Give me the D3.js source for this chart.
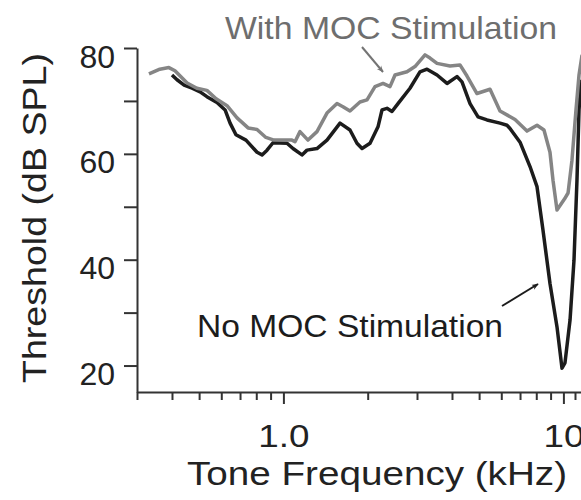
<!DOCTYPE html>
<html>
<head>
<meta charset="utf-8">
<script src="https://cdn.jsdelivr.net/npm/d3@7"></script>
<style>
  body { margin: 0; background: #fff; }
  text { font-family: "Liberation Sans", Arial, sans-serif; }
</style>
</head>
<body>
<script>
// tone frequency (kHz) and threshold (dB SPL)
const freqWithMoc = [0.331, 0.362, 0.390, 0.410, 0.453, 0.491, 0.533, 0.575, 0.629, 0.683,
  0.748, 0.805, 0.866, 0.925, 1.073, 1.100, 1.146, 1.224, 1.318, 1.431,
  1.554, 1.632, 1.729, 1.877, 1.989, 2.124, 2.269, 2.403, 2.504, 2.763,
  2.951, 3.205, 3.339, 3.537, 3.936, 4.272, 4.526, 4.913, 5.469, 5.937,
  6.717, 7.413, 8.049, 8.523, 8.955, 9.18, 9.487, 10.10, 10.39, 10.73,
  11.09, 11.37, 11.66];
const thrWithMoc = [75.1, 76.0, 76.3, 75.7, 73.4, 72.4, 72.0, 70.4, 69.1, 66.8,
  64.9, 64.6, 63.1, 62.6, 62.6, 62.3, 64.2, 62.6, 64.2, 67.7,
  69.5, 68.9, 68.1, 69.8, 70.2, 72.7, 73.3, 72.7, 74.9, 75.5,
  76.5, 78.7, 78.1, 77.1, 76.6, 76.8, 74.7, 71.4, 72.2, 68.1,
  66.5, 64.3, 65.4, 64.5, 60.3, 55.0, 49.4, 51.5, 52.6, 58.8,
  68.3, 74.9, 78.7];

const freqNoMoc = [0.400, 0.417, 0.442, 0.472, 0.504, 0.533, 0.579, 0.619, 0.645, 0.677,
  0.735, 0.805, 0.839, 0.874, 0.918, 1.030, 1.082, 1.165, 1.214, 1.318,
  1.431, 1.593, 1.729, 1.831, 1.909, 2.039, 2.177, 2.250, 2.344, 2.442,
  2.566, 2.832, 3.074, 3.258, 3.537, 3.840, 4.167, 4.343, 4.640, 4.956,
  5.335, 5.937, 6.290, 6.445, 7.000, 7.598, 8.049, 8.453, 8.955, 9.487,
  9.885, 10.13, 10.56, 10.91, 11.18, 11.37, 11.56];
const thrNoMoc = [74.9, 74.0, 73.0, 72.4, 71.7, 70.8, 69.7, 68.3, 65.8, 63.6,
  62.6, 60.3, 59.8, 60.7, 62.1, 62.0, 61.0, 59.8, 60.7, 61.0,
  62.6, 65.8, 64.5, 62.0, 61.0, 62.0, 65.1, 68.3, 68.6, 68.0,
  69.5, 72.4, 75.5, 76.0, 74.9, 73.3, 74.6, 73.6, 69.5, 67.0,
  66.4, 65.8, 65.4, 64.8, 62.2, 57.6, 53.8, 45.6, 35.5, 27.3,
  19.5, 20.5, 28.6, 39.9, 55.0, 68.3, 74.0];

// axis ticks
const yMajorTicks = [20, 40, 60, 80];
const yMinorTicks = [30, 50, 70];
const xMajorTicks = [1, 10];
const xMinorTicks = [0.3, 0.4, 0.5, 0.6, 0.7, 0.8, 0.9, 2, 3, 4, 5, 6, 7, 8, 9, 11];
const xTickLabels = { 1: "1.0", 10: "10" };

const width = 581, height = 500;
const margin = { top: 48, left: 137 };
const plotW = 449, plotH = 344;

const svg = d3.select("body").append("svg")
  .attr("width", width)
  .attr("height", height);

const defs = svg.append("defs");
[["arrowGray", "#747474"], ["arrowBlack", "#1c1c1c"]].forEach(([id, c]) => {
  defs.append("marker")
    .attr("id", id)
    .attr("viewBox", "0 0 10 10")
    .attr("refX", 9).attr("refY", 5)
    .attr("markerWidth", 7).attr("markerHeight", 7)
    .attr("markerUnits", "userSpaceOnUse")
    .attr("orient", "auto")
    .append("path")
    .attr("d", "M0,1 L10,5 L0,9 L3,5 Z")
    .attr("fill", c);
});

const g = svg.append("g")
  .attr("transform", `translate(${margin.left},${margin.top})`);

const x = d3.scaleLog().domain([0.3, 12]).range([0, plotW * Math.log10(40) / Math.log10(40)]);
x.range([0, 280 * Math.log10(12 / 0.3)]);
const y = d3.scaleLinear().domain([15, 80]).range([plotH, 0]);

// x axis
const xAxis = d3.axisBottom(x)
  .tickValues([...xMinorTicks, ...xMajorTicks])
  .tickFormat(d => xTickLabels[d] || "")
  .tickSize(8)
  .tickSizeOuter(0);
const xg = g.append("g")
  .attr("transform", `translate(0,${plotH})`)
  .call(xAxis);
xg.selectAll(".tick")
  .filter(d => xMajorTicks.includes(d))
  .select("line").attr("y2", 12);
xg.selectAll(".tick text")
  .attr("y", 55).attr("dy", 0)
  .attr("transform", "scale(1.15,1)")
  .attr("font-size", 32)
  .attr("fill", "#222");

// y axis
const yAxis = d3.axisLeft(y)
  .tickValues([...yMinorTicks, ...yMajorTicks])
  .tickFormat(d => yMajorTicks.includes(d) ? d : "")
  .tickSize(13)
  .tickSizeOuter(0);
const yg = g.append("g").call(yAxis);
yg.selectAll(".tick text")
  .attr("x", -22).attr("y", 19).attr("dy", 0)
  .attr("font-size", 32)
  .attr("fill", "#222");

[xg, yg].forEach(a => {
  a.selectAll("path.domain").attr("stroke", "#333").attr("stroke-width", 2);
  a.selectAll(".tick line").attr("stroke", "#333").attr("stroke-width", 2);
});

// curves
const line = d3.line()
  .x(d => x(d[0]))
  .y(d => y(d[1]));

g.append("path")
  .datum(d3.zip(freqNoMoc, thrNoMoc))
  .attr("fill", "none")
  .attr("stroke", "#1c1c1c")
  .attr("stroke-width", 3.5)
  .attr("stroke-linejoin", "round")
  .attr("d", line);

g.append("path")
  .datum(d3.zip(freqWithMoc, thrWithMoc))
  .attr("fill", "none")
  .attr("stroke", "#858585")
  .attr("stroke-width", 3.5)
  .attr("stroke-linejoin", "round")
  .attr("d", line);

// axis titles
svg.append("text")
  .attr("transform", "translate(46,218) rotate(-90)")
  .attr("text-anchor", "middle")
  .attr("font-size", 33)
  .attr("textLength", 330)
  .attr("lengthAdjust", "spacingAndGlyphs")
  .attr("fill", "#222")
  .text("Threshold (dB SPL)");

svg.append("text")
  .attr("x", 377).attr("y", 485)
  .attr("text-anchor", "middle")
  .attr("font-size", 33)
  .attr("textLength", 380)
  .attr("lengthAdjust", "spacingAndGlyphs")
  .attr("fill", "#222")
  .text("Tone Frequency (kHz)");

// annotations
svg.append("text")
  .attr("x", 225).attr("y", 39)
  .attr("font-size", 32)
  .attr("textLength", 332)
  .attr("lengthAdjust", "spacingAndGlyphs")
  .attr("fill", "#6e6e6e")
  .text("With MOC Stimulation");

svg.append("line")
  .attr("x1", 362).attr("y1", 47).attr("x2", 383).attr("y2", 72)
  .attr("stroke", "#747474").attr("stroke-width", 2)
  .attr("marker-end", "url(#arrowGray)");

svg.append("text")
  .attr("x", 197).attr("y", 337)
  .attr("font-size", 32)
  .attr("textLength", 306)
  .attr("lengthAdjust", "spacingAndGlyphs")
  .attr("fill", "#1c1c1c")
  .text("No MOC Stimulation");

svg.append("line")
  .attr("x1", 502).attr("y1", 306).attr("x2", 538).attr("y2", 284)
  .attr("stroke", "#1c1c1c").attr("stroke-width", 2)
  .attr("marker-end", "url(#arrowBlack)");
</script>
</body>
</html>
